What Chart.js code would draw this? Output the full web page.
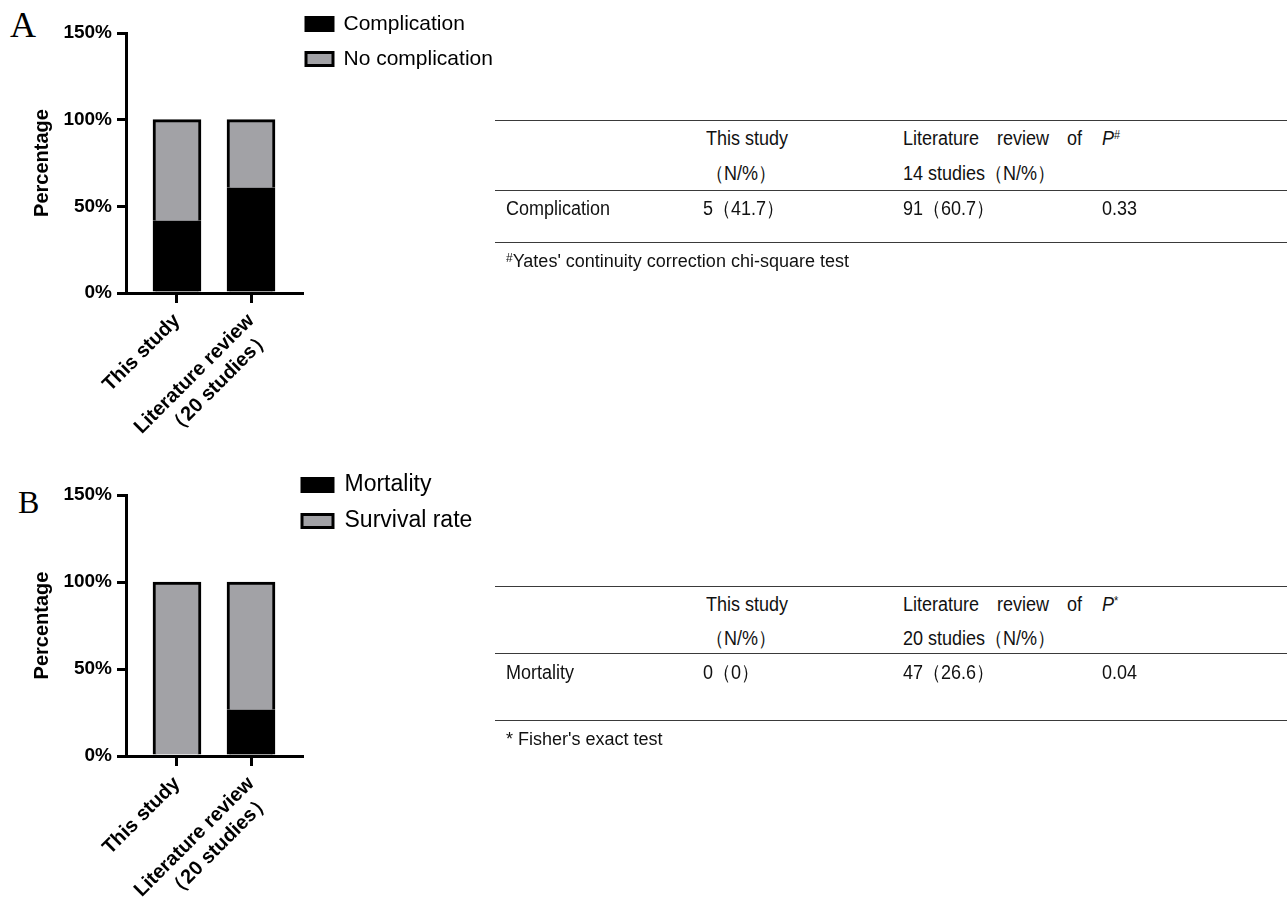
<!DOCTYPE html>
<html><head><meta charset="utf-8">
<script src="https://cdn.jsdelivr.net/npm/chart.js@4.4.1/dist/chart.umd.min.js"></script>
<style>
body{margin:0;width:1287px;height:897px;background:#fff;position:relative;overflow:hidden;font-family:"Liberation Sans",Arial,sans-serif;}
.wrap{position:absolute;left:0;}
.letter{position:absolute;font-family:"Liberation Serif","Times New Roman",serif;color:#000;line-height:1;}
.hl{position:absolute;left:495px;width:792px;height:0;border-top:1.5px solid #3a3a3a;}
.t{position:absolute;font-size:20px;color:#111;white-space:nowrap;transform:scaleX(0.9);transform-origin:0 50%;line-height:20px;height:20px;}
.fn{position:absolute;font-size:18px;color:#111;white-space:nowrap;line-height:18px;}
.jl{text-align:justify;text-align-last:justify;width:199px;}
sup{font-size:12px;vertical-align:top;position:relative;top:-3px;}
</style></head>
<body>
<div class="letter" style="left:10px;top:7px;font-size:36px;">A</div>
<div class="letter" style="left:18px;top:486px;font-size:32px;">B</div>

<div class="wrap" style="top:0;width:520px;height:440px;"><canvas id="chartA" width="520" height="440"></canvas></div>
<div class="wrap" style="top:462px;width:520px;height:441px;"><canvas id="chartB" width="520" height="441"></canvas></div>

<!-- Table A -->
<div class="hl" style="top:120px;"></div>
<div class="hl" style="top:190px;"></div>
<div class="hl" style="top:242px;"></div>
<div class="t" style="left:706px;top:128px;">This study</div>
<div class="t" style="left:706px;top:163px;">（N/%）</div>
<div class="t jl" style="left:903px;top:128px;">Literature review of</div>
<div class="t" style="left:903px;top:163px;">14 studies（N/%）</div>
<div class="t" style="left:1102px;top:128px;"><i>P</i><sup>#</sup></div>
<div class="t" style="left:506px;top:198px;">Complication</div>
<div class="t" style="left:703px;top:198px;">5（41.7）</div>
<div class="t" style="left:903px;top:198px;">91（60.7）</div>
<div class="t" style="left:1102px;top:198px;">0.33</div>
<div class="fn" style="left:506px;top:252px;"><sup>#</sup>Yates' continuity correction chi-square test</div>

<!-- Table B -->
<div class="hl" style="top:586px;"></div>
<div class="hl" style="top:653px;"></div>
<div class="hl" style="top:720px;"></div>
<div class="t" style="left:706px;top:594px;">This study</div>
<div class="t" style="left:706px;top:628px;">（N/%）</div>
<div class="t jl" style="left:903px;top:594px;">Literature review of</div>
<div class="t" style="left:903px;top:628px;">20 studies（N/%）</div>
<div class="t" style="left:1102px;top:594px;"><i>P</i><sup>*</sup></div>
<div class="t" style="left:506px;top:662px;">Mortality</div>
<div class="t" style="left:703px;top:662px;">0（0）</div>
<div class="t" style="left:903px;top:662px;">47（26.6）</div>
<div class="t" style="left:1102px;top:662px;">0.04</div>
<div class="fn" style="left:506px;top:730px;">* Fisher's exact test</div>

<script>
// ---- data ----
const categories = ['This study', 'Literature review （20 studies）'];
const tickLabels = [['This study'], ['Literature review', '（20 studies）']];
const yTicks = [0, 50, 100, 150];
const seriesA = ['Complication', 'No complication'];
const complication = [41.7, 60.7];
const noComplication = [58.3, 39.3];
const seriesB = ['Mortality', 'Survival rate'];
const mortality = [0, 26.6];
const survival = [100, 73.4];

const BLACK = '#000000';
const GRAY = '#a2a2a6';
const FONT = '"Liberation Sans", Arial, sans-serif';

const legendPlacer = {
  id: 'legendPlacer',
  beforeDraw(chart, args, opts) {
    const lg = chart.legend;
    if (!lg) return;
    const pad = chart.options.plugins.legend.labels.padding;
    lg.left = opts.x - pad; lg.right = lg.left + 260;
    lg.top = opts.y - pad; lg.bottom = lg.top + 120;
  }
};

function makeChart(id, names, values, leg) {
  const datasets = names.map((n, k) => ({
    label: n,
    data: values[k].map((v, i) => ({x: i, y: v})),
    backgroundColor: k === 0 ? BLACK : GRAY,
    borderColor: BLACK,
    borderWidth: 3,
    barThickness: 48
  }));
  return new Chart(document.getElementById(id), {
    type: 'bar',
    data: {datasets},
    plugins: [legendPlacer],
    options: {
      responsive: false,
      animation: false,
      events: [],
      layout: {padding: {top: 33, right: 218, left: 0, bottom: 0}},
      plugins: {
        tooltip: {enabled: false},
        legendPlacer: {x: leg.x, y: leg.y},
        legend: {
          position: 'chartArea',
          align: 'start',
          labels: {
            boxWidth: leg.boxW, boxHeight: 13, padding: leg.pad, color: '#000',
            font: {family: FONT, size: leg.size}
          }
        }
      },
      scales: {
        x: {
          type: 'linear', stacked: true, min: -0.689, max: 1.689, offset: false,
          afterBuildTicks: s => { s.ticks = categories.map((c, i) => ({value: i})); },
          afterFit: s => { s.height = leg.xh; },
          ticks: {
            callback: v => tickLabels[v], minRotation: 45, maxRotation: 45, autoSkip: false,
            padding: 6, color: '#000', font: {family: FONT, size: 20, weight: 'bold'}
          },
          grid: {offset: false, drawOnChartArea: false, tickLength: 10, lineWidth: 3, color: '#000'},
          border: {color: '#000', width: 3}
        },
        y: {
          stacked: true, min: 0, max: 150,
          afterBuildTicks: s => { s.ticks = yTicks.map(v => ({value: v})); },
          afterFit: s => { s.width = 126; },
          ticks: {callback: v => v + '%', padding: 5, color: '#000', font: {family: FONT, size: 19, weight: 'bold'}},
          grid: {drawOnChartArea: false, tickLength: 9, lineWidth: 3, color: '#000'},
          border: {color: '#000', width: 3},
          title: {display: true, text: 'Percentage', color: '#000', padding: {top: 30, bottom: 0},
                  font: {family: FONT, size: 20, weight: 'bold'}}
        }
      }
    }
  });
}

makeChart('chartA', seriesA, [complication, noComplication], {x: 306, y: 13.5, boxW: 27, pad: 14, size: 21, xh: 147});
makeChart('chartB', seriesB, [mortality, survival], {x: 302, y: 11.5, boxW: 31, pad: 13, size: 23, xh: 147});
</script>
</body></html>
